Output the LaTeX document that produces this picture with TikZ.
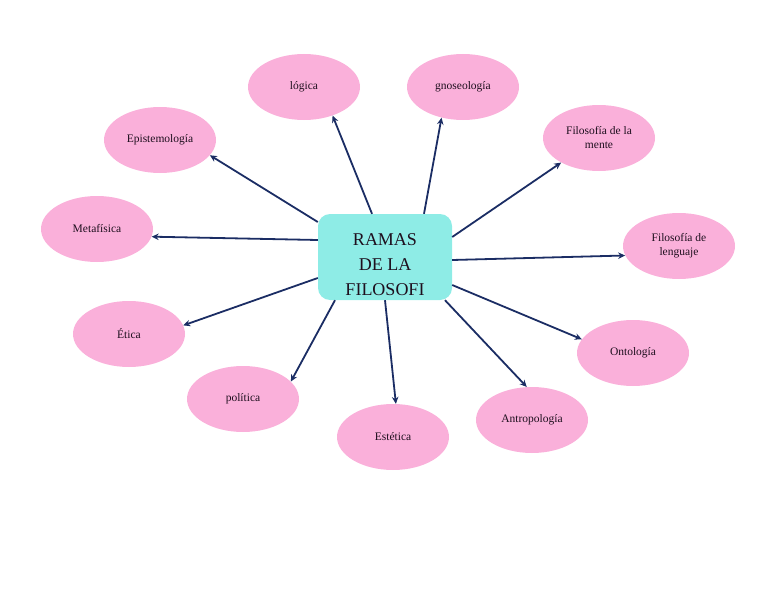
\documentclass[tikz,border=0pt]{standalone}
\usepackage{fontspec}
\setmainfont{Liberation Serif}
\usetikzlibrary{arrows.meta,shapes.geometric}
\definecolor{BranchClr}{RGB}{250,176,218}
\definecolor{BoxClr}{RGB}{142,236,230}
\definecolor{ArrowClr}{RGB}{27,45,100}
\definecolor{TextClr}{RGB}{30,15,30}

\begin{document}
\begin{tikzpicture}[x=1pt,y=-1pt,
  branch/.style={ellipse,fill=BranchClr,minimum width=112pt,minimum height=66pt,
    inner sep=0pt,align=center,text=TextClr,font=\fontsize{11.5}{14}\selectfont},
  link/.style={draw=ArrowClr,line width=1.8pt,-{Stealth[length=7pt,width=6.5pt]}}]
\useasboundingbox (0,0) rectangle (768,594);

\node[fill=BoxClr,rounded corners=12pt,minimum width=134pt,minimum height=86pt,
  align=center,text=TextClr,font=\fontsize{18}{25}\selectfont] (ramas) at (385,257)
  {\rule{0pt}{10pt}\\[-8pt]RAMAS\\DE LA\\FILOSOFI};

\node[branch] (logica) at (304,87) {lógica};
\node[branch] (gnoseo) at (463,87) {gnoseología};
\node[branch] (mente) at (599,138) {Filosofía de la\\mente};
\node[branch] (lenguaje) at (679,246) {Filosofía de\\lenguaje};
\node[branch] (onto) at (633,353) {Ontología};
\node[branch] (antro) at (532,420) {Antropología};
\node[branch] (estetica) at (393,437) {Estética};
\node[branch] (politica) at (243,399) {política};
\node[branch] (etica) at (129,334) {Ética};
\node[branch] (meta) at (97,229) {Metafísica};
\node[branch] (episte) at (160,140) {Epistemología};

% arrows out of the box
\draw[link] ([xshift=-13pt]ramas.north) -- (logica.-45);
\draw[link] ([xshift=39pt]ramas.north) -- (gnoseo.-125);
\draw[link] ([yshift=20pt]ramas.east) -- (mente.-147);
\draw[link] ([yshift=-3pt]ramas.east) -- (lenguaje.-170);
\draw[link] ([yshift=-28pt]ramas.east) -- (onto.165);
\draw[link] ([xshift=60pt]ramas.south) -- (antro.99);
\draw[link] (ramas.south) -- (estetica.85);
\draw[link] ([xshift=-50pt]ramas.south) -- (politica.20);
\draw[link] ([yshift=-21pt]ramas.west) -- (etica.9);
\draw[link] ([yshift=17pt]ramas.west) -- (meta.-8);
\draw[link] ([yshift=35pt]ramas.west) -- (episte.-17);

\end{tikzpicture}
\end{document}
